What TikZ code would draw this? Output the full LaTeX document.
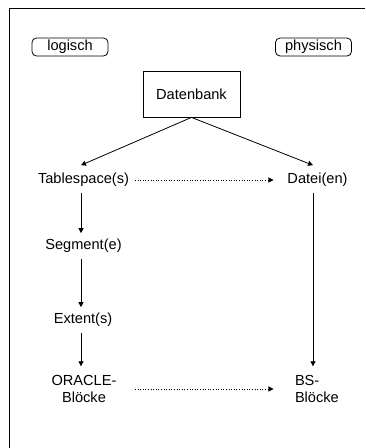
\documentclass[tikz,border=0pt]{standalone}
\usepackage{fontspec}
\setmainfont{Liberation Sans}
\usetikzlibrary{arrows.meta,calc}
\begin{document}
\begin{tikzpicture}[x=1pt,y=-1pt,
  lbl/.style={inner sep=0pt, outer sep=6pt, font=\fontsize{14.6}{17}\selectfont},
  tag/.style={draw, line width=0.8pt, rounded corners=4.5pt, minimum width=76pt, minimum height=18pt, inner sep=0pt, font=\fontsize{14.6}{17}\selectfont},
  arr/.style={-{Triangle[length=5pt,width=5pt]}, line width=0.8pt},
  dotarr/.style={dotted, line width=0.6pt, -{Triangle[length=5pt,width=5pt]}}]
\useasboundingbox (0,0) rectangle (365,448);
\draw[line width=0.8pt] (9,448) -- (9,8) -- (365,8);
\node[tag] (lg) at (70,47) {logisch};
\node[tag] (ph) at (313.5,47) {physisch};
\node[draw, line width=0.8pt, minimum width=97pt, minimum height=46pt, inner sep=0pt, font=\fontsize{14.6}{17}\selectfont] (db) at (191.5,94) {Datenbank};
\node[lbl] (ts) at (83.5,180) {Tablespace(s)};
\node[lbl] (de) at (317.5,180) {Datei(en)};
\node[lbl] (sg) at (83.5,246) {Segment(e)};
\node[lbl] (ex) at (83,320) {Extent(s)};
\node[lbl, align=center] (ob) at (84,389) {ORACLE-\\Blöcke};
\node[lbl, align=left, anchor=west] (bs) at (289,389) {BS-\\Blöcke};
\coordinate (cl) at (81,0);
\coordinate (cr) at (313,0);
\draw[arr] (db.south) -- ($(ts.north -| cl)+(0,-2)$);
\draw[arr] (db.south) -- ($(de.north -| cr)+(0,-2)$);
\draw[arr] (ts.south -| cl) -- (sg.north -| cl);
\draw[arr] (sg.south -| cl) -- (ex.north -| cl);
\draw[arr] (ex.south -| cl) -- ($(ob.north -| cl)+(0,-3)$);
\draw[arr] (de.south -| cr) -- ($(bs.north -| cr)+(0,-3)$);
\draw[dotarr] (ts.east) -- ($(de.west)+(-8,0)$);
\draw[dotarr] (ob -| ts.east) -- ($(ob -| de.west)+(-8,0)$);
\end{tikzpicture}
\end{document}
